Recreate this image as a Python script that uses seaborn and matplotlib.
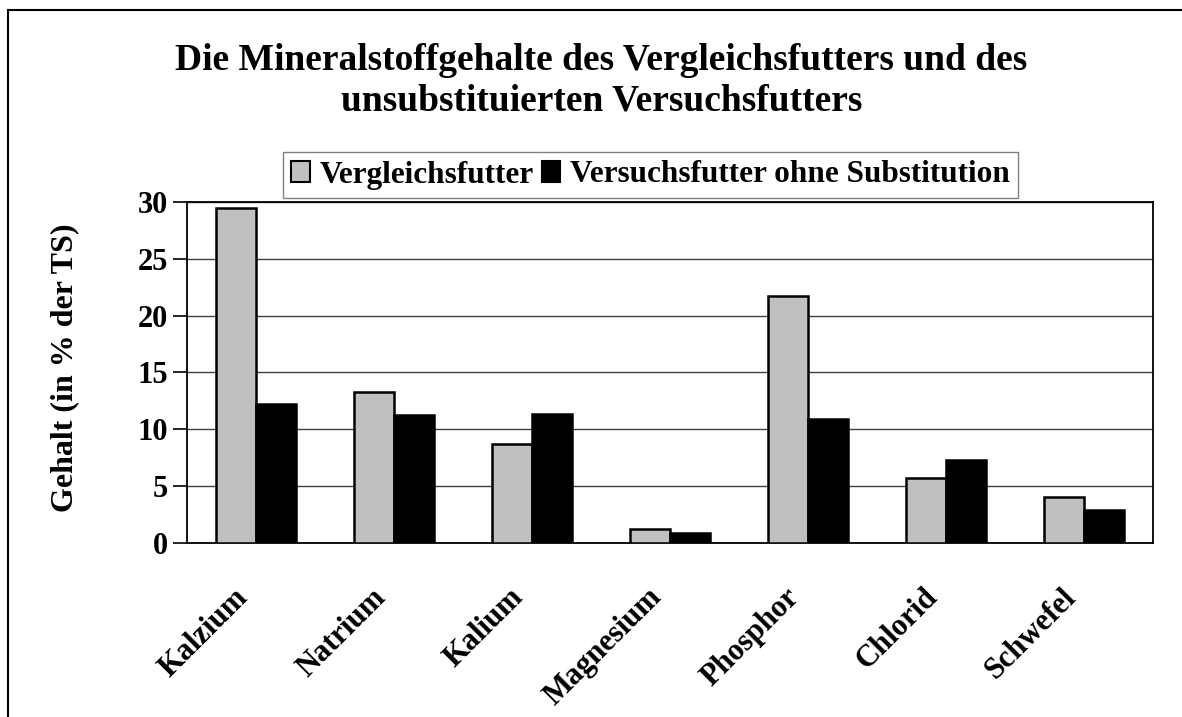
import matplotlib
matplotlib.use("Agg")
import matplotlib.pyplot as plt
import matplotlib.transforms as mtransforms
from matplotlib.patches import Patch, Rectangle
import seaborn as sns
import pandas as pd

categories = ["Kalzium", "Natrium", "Kalium", "Magnesium", "Phosphor", "Chlorid", "Schwefel"]
vergleichsfutter = [29.5, 13.3, 8.7, 1.15, 21.7, 5.7, 4.0]
versuchsfutter = [12.2, 11.2, 11.3, 0.8, 10.85, 7.3, 2.9]
series_names = ["Vergleichsfutter", "Versuchsfutter ohne Substitution"]
yticks = [0, 5, 10, 15, 20, 25, 30]

title = "Die Mineralstoffgehalte des Vergleichsfutters und des\nunsubstituierten Versuchsfutters"
ylabel = "Gehalt (in % der TS)"

df = pd.DataFrame({
    "Mineral": categories * 2,
    "Gehalt": vergleichsfutter + versuchsfutter,
    "Futter": [series_names[0]] * len(categories) + [series_names[1]] * len(categories),
})

sns.set_style("white")
plt.rcParams["font.family"] = ["Liberation Serif", "DejaVu Serif"]
plt.rcParams["font.weight"] = "bold"
for k in ["text.color", "axes.labelcolor", "xtick.color", "ytick.color", "axes.edgecolor"]:
    plt.rcParams[k] = "black"

W, H = 1182, 717
fig = plt.figure(figsize=(W / 100, H / 100), dpi=100)
fig.patch.set_facecolor("white")
ax = fig.add_axes([187 / W, 1 - 542.5 / H, (1153 - 187) / W, (542.5 - 202.3) / H])

palette = {series_names[0]: "#C0C0C0", series_names[1]: "#000000"}
sns.barplot(data=df, x="Mineral", y="Gehalt", hue="Futter", palette=palette,
            width=0.58, edgecolor="black", linewidth=1.8, ax=ax, legend=False,
            zorder=3)

ax.set_ylim(0, 30)
ax.set_xlim(-0.5, len(categories) - 0.5)
ax.set_yticks(yticks)
ax.set_yticklabels([str(t) for t in yticks], fontsize=22, fontweight="bold",
                   color="black")
ax.yaxis.grid(True, color="#404040", linewidth=1.0, zorder=0)
ax.xaxis.grid(False)
ax.set_axisbelow(True)

# Category boundary ticks (major) and centered labels (minor)
ax.set_xticks([i - 0.5 for i in range(len(categories) + 1)])
ax.set_xticklabels([""] * (len(categories) + 1))
ax.set_xticks(list(range(len(categories))), minor=True)
ax.set_xticklabels(categories, minor=True, fontsize=22, fontweight="bold",
                   rotation=45, ha="right", va="top",
                   rotation_mode="anchor", color="black")
ax.tick_params(axis="x", which="major", direction="out", length=10, width=1.2,
               color="black")
ax.tick_params(axis="x", which="minor", length=0, pad=29)
ax.tick_params(axis="y", direction="out", length=10, width=1.2, color="black",
               pad=3.5, left=True)
shift = mtransforms.ScaledTranslation(-0.23, 0, fig.dpi_scale_trans)
for lab in ax.get_xticklabels(minor=True):
    lab.set_transform(lab.get_transform() + shift)
ax.set_xlabel("")
ax.set_ylabel("")

for s in ax.spines.values():
    s.set_visible(True)
    s.set_color("black")
    s.set_linewidth(1.3)

fig.text(65 / W, 1 - 368 / H, ylabel, rotation=90, ha="center", va="center",
         fontsize=23, fontweight="bold", color="black")

fig.text(601.5 / W, 1 - 80.5 / H, title, ha="center", va="center",
         fontsize=27, fontweight="bold", linespacing=1.2,
         multialignment="center", color="black")

handles = [Patch(facecolor=palette[n], edgecolor="black", linewidth=1.5) for n in series_names]
leg = fig.legend(handles, series_names, loc="center",
                 bbox_to_anchor=(650.5 / W, 1 - 175 / H), ncol=2,
                 frameon=True, fancybox=False, framealpha=1,
                 edgecolor="#808080",
                 prop={"weight": "bold", "size": 22.5},
                 handlelength=0.6, handleheight=0.65, handletextpad=0.3,
                 columnspacing=0.25, borderpad=0.28, borderaxespad=0)
leg.get_frame().set_linewidth(1.0)
for t in leg.get_texts():
    t.set_color("black")

border = Rectangle((8 / W, -0.1), 2.0, 1 - 10 / H + 0.1, transform=fig.transFigure,
                   fill=False, edgecolor="black", linewidth=1.5, clip_on=False)
fig.patches.append(border)

fig.savefig("out.png", dpi=100, facecolor="white")
